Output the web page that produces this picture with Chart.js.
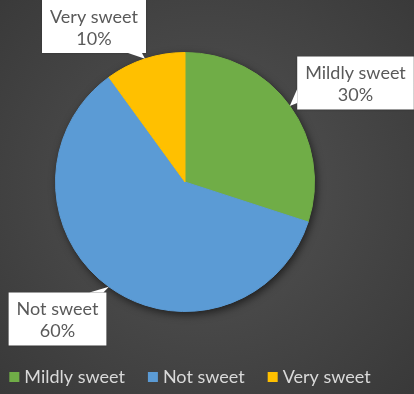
<!DOCTYPE html>
<html>
<head>
<meta charset="utf-8">
<script src="https://cdn.jsdelivr.net/npm/chart.js@4/dist/chart.umd.min.js"></script>
<style>
html, body { margin: 0; padding: 0; background: #444; }
canvas { display: block; }
</style>
</head>
<body>
<canvas id="sweetChart" width="414" height="394"></canvas>
<script>
var categories = ['Mildly sweet', 'Not sweet', 'Very sweet'];
var shares = [30, 60, 10];
var sliceColors = ['#70AD47', '#5B9BD5', '#FFC000'];

var FONT = '"Lato", "Open Sans", sans-serif';

// callout box centres, relative to the pie centre
var calloutOffsets = [[170.5, -99], [-127.5, 137], [-91, -155.5]];

var backdrop = {
    id: 'backdrop',
    beforeDraw: function(chart) {
        var ctx = chart.ctx;
        var g = ctx.createRadialGradient(207, 190, 0, 207, 190, 300);
        g.addColorStop(0, '#545454');
        g.addColorStop(1, '#383838');
        ctx.save();
        ctx.fillStyle = g;
        ctx.fillRect(0, 0, chart.width, chart.height);
        ctx.restore();
    }
};

// soft shadow under the whole pie
var pieShadow = {
    id: 'pieShadow',
    beforeDatasetsDraw: function(chart) {
        var arc = chart.getDatasetMeta(0).data[0];
        if (!arc) return;
        var ctx = chart.ctx;
        ctx.save();
        ctx.shadowColor = 'rgba(0,0,0,0.6)';
        ctx.shadowBlur = 8;
        ctx.shadowOffsetX = 2;
        ctx.shadowOffsetY = 3;
        ctx.fillStyle = '#3a3a3a';
        ctx.beginPath();
        ctx.arc(arc.x, arc.y, arc.outerRadius, 0, Math.PI * 2);
        ctx.fill();
        ctx.restore();
    }
};

var callouts = {
    id: 'callouts',
    afterDatasetsDraw: function(chart) {
        var ctx = chart.ctx;
        var meta = chart.getDatasetMeta(0);
        ctx.save();
        ctx.font = '18px ' + FONT;
        meta.data.forEach(function(arc, i) {
            var mid = (arc.startAngle + arc.endAngle) / 2;
            var tipX = arc.x + Math.cos(mid) * arc.outerRadius;
            var tipY = arc.y + Math.sin(mid) * arc.outerRadius;
            var lines = [categories[i], shares[i] + '%'];
            var w = Math.max(ctx.measureText(lines[0]).width, ctx.measureText(lines[1]).width) + 16;
            var h = 53;
            var cx = arc.x + calloutOffsets[i][0];
            var cy = arc.y + calloutOffsets[i][1];
            var left = cx - w / 2, top = cy - h / 2, right = left + w, bottom = top + h;

            // pointer base on the box edge nearest the tip
            var px = Math.min(Math.max(tipX, left), right);
            var py = Math.min(Math.max(tipY, top), bottom);
            var b1, b2;
            if (Math.abs(tipY - py) >= Math.abs(tipX - px)) {
                var dir = px > cx ? -1 : 1;
                b1 = [px + dir * 3, py];
                b2 = [px + dir * 17, py];
            } else {
                var dirY = py > cy ? -1 : 1;
                b1 = [px, py + dirY * 3];
                b2 = [px, py + dirY * 17];
            }

            ctx.fillStyle = '#ffffff';
            ctx.shadowColor = 'rgba(0,0,0,0.25)';
            ctx.shadowBlur = 2;
            ctx.fillRect(left, top, w, h);
            ctx.shadowColor = 'transparent';
            ctx.beginPath();
            ctx.moveTo(b1[0], b1[1]);
            ctx.lineTo(tipX, tipY);
            ctx.lineTo(b2[0], b2[1]);
            ctx.closePath();
            ctx.fill();

            ctx.fillStyle = '#595959';
            ctx.textAlign = 'center';
            ctx.textBaseline = 'middle';
            ctx.fillText(lines[0], cx, top + 17);
            ctx.fillText(lines[1], cx, top + 39);
        });
        ctx.restore();
    }
};

// single-row legend under the pie
var legendRow = {
    id: 'legendRow',
    afterDraw: function(chart) {
        var ctx = chart.ctx;
        ctx.save();
        ctx.font = '18px ' + FONT;
        var box = 10, gap = 5, spacing = 23;
        var widths = categories.map(function(c) { return ctx.measureText(c).width; });
        var total = widths.reduce(function(a, b) { return a + b + box + gap; }, 0) + spacing * (categories.length - 1);
        var x = 190 - total / 2;
        var y = 377;
        ctx.textBaseline = 'middle';
        ctx.textAlign = 'left';
        categories.forEach(function(c, i) {
            ctx.fillStyle = sliceColors[i];
            ctx.fillRect(x, y - box / 2, box, box);
            x += box + gap;
            ctx.fillStyle = '#d9d9d9';
            ctx.fillText(c, x, y);
            x += widths[i] + spacing;
        });
        ctx.restore();
    }
};

new Chart(document.getElementById('sweetChart'), {
    type: 'pie',
    data: {
        labels: categories,
        datasets: [{
            data: shares,
            backgroundColor: sliceColors,
            borderColor: sliceColors,
            borderWidth: 1
        }]
    },
    options: {
        responsive: false,
        devicePixelRatio: 1,
        animation: false,
        layout: { padding: { top: 52, left: 55, right: 99, bottom: 82 } },
        plugins: {
            legend: { display: false },
            tooltip: { enabled: false }
        }
    },
    plugins: [backdrop, pieShadow, callouts, legendRow]
});
</script>
</body>
</html>
